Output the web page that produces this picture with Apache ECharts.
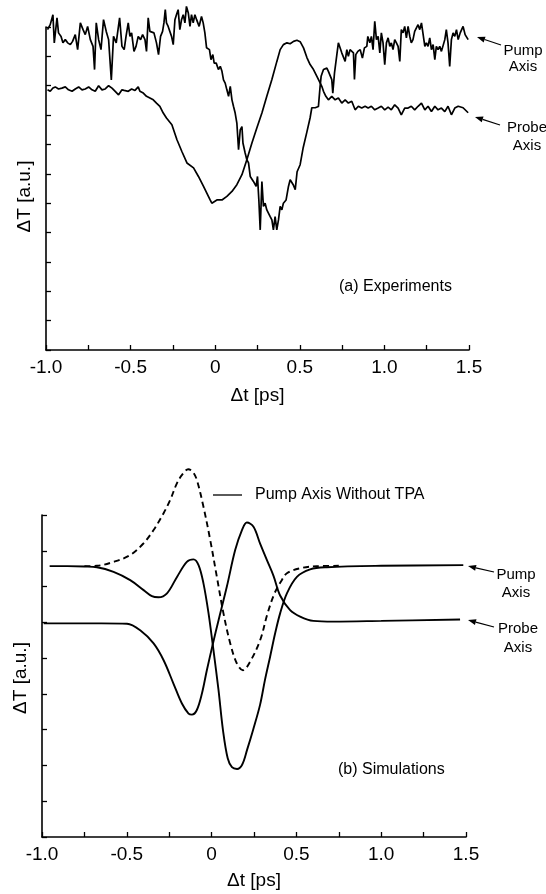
<!DOCTYPE html>
<html>
<head>
<meta charset="utf-8">
<script src="https://cdn.jsdelivr.net/npm/echarts@6/dist/echarts.min.js"></script>
<style>
  html, body { margin: 0; padding: 0; background: #fff; }
  #chart { width: 546px; height: 894px; }
</style>
</head>
<body>
<div id="chart"></div>
<script>
// tick labels shown on both time axes (every 0.5 ps, minor ticks every 0.25)
const xTickLabels = ['-1.0', '-0.5', '0', '0.5', '1.0', '1.5'];

// (a) experiments, [delay ps, dT a.u.]
const expPump = [
  [-0.991,10.91],[-0.975,11.08],[-0.959,11.42],[-0.951,10.46],[-0.935,11.31],[-0.926,10.80],[-0.911,10.68],[-0.900,10.46],
  [-0.886,10.57],[-0.872,10.46],[-0.856,10.40],[-0.843,10.51],[-0.827,10.74],[-0.813,10.23],[-0.797,11.14],[-0.781,10.91],
  [-0.768,10.74],[-0.754,11.02],[-0.738,10.57],[-0.722,10.34],[-0.713,9.55],[-0.703,11.14],[-0.689,10.57],[-0.675,10.23],
  [-0.660,11.25],[-0.644,10.85],[-0.630,10.57],[-0.614,9.20],[-0.601,10.68],[-0.585,10.46],[-0.565,11.31],[-0.551,10.34],
  [-0.538,10.23],[-0.527,10.68],[-0.514,11.14],[-0.504,10.68],[-0.494,10.80],[-0.480,10.17],[-0.468,10.34],[-0.455,10.68],
  [-0.441,10.57],[-0.429,10.74],[-0.415,10.57],[-0.406,10.17],[-0.396,11.31],[-0.386,10.85],[-0.376,10.91],[-0.362,10.80],
  [-0.347,10.46],[-0.335,10.06],[-0.323,10.68],[-0.311,10.85],[-0.303,11.14],[-0.295,11.59],[-0.288,11.14],[-0.278,11.02],
  [-0.268,11.08],[-0.258,10.68],[-0.248,10.40],[-0.238,11.25],[-0.229,11.42],[-0.219,11.59],[-0.209,10.91],[-0.199,11.25],
  [-0.189,11.42],[-0.179,11.14],[-0.170,11.70],[-0.159,11.48],[-0.149,11.02],[-0.140,11.42],[-0.130,11.14],[-0.120,11.42],
  [-0.110,11.25],[-0.095,11.02],[-0.081,11.36],[-0.071,11.14],[-0.061,10.80],[-0.051,10.29],[-0.034,10.23],[-0.025,9.89],
  [-0.014,10.06],[-0.006,9.77],[0.006,9.77],[0.019,9.55],[0.030,9.66],[0.040,9.49],[0.049,9.20],[0.059,9.09],
  [0.069,8.86],[0.079,8.64],[0.089,8.98],[0.099,8.52],[0.108,8.30],[0.118,8.07],[0.128,7.73],[0.138,6.82],
  [0.148,7.50],[0.158,7.61],[0.164,7.05],[0.177,6.71],[0.187,6.48],[0.197,6.37],[0.207,5.91],[0.226,5.74],
  [0.242,5.57],[0.250,5.91],[0.258,5.11],[0.266,4.09],[0.276,5.74],[0.285,4.89],[0.295,5.00],[0.305,4.77],
  [0.325,4.54],[0.335,4.43],[0.344,4.09],[0.354,4.54],[0.364,4.09],[0.374,4.43],[0.384,4.89],[0.394,4.77],
  [0.403,5.00],[0.419,5.11],[0.433,5.57],[0.443,5.80],[0.461,5.63],[0.473,5.46],[0.484,6.07],[0.502,6.31],
  [0.520,6.89],[0.542,7.43],[0.561,7.91],[0.571,8.25],[0.591,8.25],[0.610,8.29],[0.620,8.98],[0.626,9.32],
  [0.640,9.55],[0.660,9.60],[0.669,9.49],[0.679,9.55],[0.689,9.21],[0.695,8.75],[0.705,9.43],[0.719,10.06],
  [0.728,10.46],[0.738,10.29],[0.748,10.12],[0.758,10.06],[0.768,9.83],[0.778,10.23],[0.787,10.00],[0.797,10.23],
  [0.807,10.23],[0.817,10.12],[0.823,9.21],[0.831,10.06],[0.843,10.17],[0.857,10.23],[0.870,9.94],[0.882,10.29],
  [0.896,10.34],[0.902,10.68],[0.914,10.46],[0.923,10.68],[0.933,10.23],[0.943,11.19],[0.953,10.57],[0.963,10.68],
  [0.973,10.12],[0.982,10.80],[0.992,10.46],[1.002,9.72],[1.012,10.46],[1.022,10.63],[1.032,10.34],[1.041,10.46],
  [1.051,10.23],[1.061,10.57],[1.071,10.46],[1.081,10.34],[1.091,9.83],[1.100,10.91],[1.110,10.80],[1.120,11.02],
  [1.130,10.63],[1.140,11.02],[1.150,10.68],[1.159,10.46],[1.169,10.57],[1.179,10.85],[1.189,10.80],[1.199,11.08],
  [1.209,10.91],[1.219,11.14],[1.229,10.74],[1.239,10.34],[1.248,10.46],[1.258,10.34],[1.268,10.63],[1.278,10.23],
  [1.288,10.40],[1.298,9.89],[1.307,10.34],[1.317,10.23],[1.327,10.34],[1.337,10.17],[1.347,10.23],[1.357,10.57],
  [1.366,10.91],[1.376,10.46],[1.386,9.66],[1.396,10.57],[1.406,10.80],[1.416,10.68],[1.426,10.91],[1.436,10.57],
  [1.448,10.80],[1.465,11.02],[1.477,10.74],[1.495,10.57]
];

const expProbe = [
  [-0.991,8.86],[-0.975,8.81],[-0.959,8.92],[-0.945,8.96],[-0.926,8.89],[-0.906,8.92],[-0.886,8.96],[-0.867,8.86],
  [-0.846,8.81],[-0.827,8.89],[-0.807,8.96],[-0.787,8.86],[-0.768,8.89],[-0.748,8.96],[-0.728,8.86],[-0.709,8.81],
  [-0.689,9.00],[-0.669,8.86],[-0.650,8.89],[-0.630,9.00],[-0.610,8.92],[-0.591,8.81],[-0.571,8.69],[-0.551,8.86],
  [-0.538,8.84],[-0.514,8.81],[-0.494,8.89],[-0.474,8.84],[-0.455,8.96],[-0.445,8.81],[-0.425,8.75],[-0.406,8.64],
  [-0.386,8.58],[-0.366,8.52],[-0.347,8.41],[-0.327,8.30],[-0.307,8.07],[-0.288,7.90],[-0.256,7.67],[-0.226,7.16],
  [-0.197,6.76],[-0.167,6.37],[-0.128,6.20],[-0.099,5.91],[-0.069,5.57],[-0.030,5.11],[-0.020,5.00],[0.010,5.11],
  [0.040,5.11],[0.069,5.23],[0.099,5.40],[0.128,5.63],[0.158,5.97],[0.187,6.48],[0.217,7.05],[0.246,7.56],
  [0.276,8.07],[0.305,8.64],[0.335,9.21],[0.364,9.82],[0.384,10.23],[0.403,10.40],[0.424,10.46],[0.443,10.43],
  [0.463,10.51],[0.483,10.55],[0.502,10.50],[0.522,10.29],[0.542,9.96],[0.561,9.72],[0.581,9.55],[0.601,9.32],
  [0.620,9.10],[0.630,8.98],[0.640,8.81],[0.654,8.64],[0.669,8.52],[0.689,8.64],[0.709,8.52],[0.728,8.58],
  [0.748,8.41],[0.768,8.52],[0.787,8.41],[0.807,8.47],[0.827,8.18],[0.846,8.30],[0.866,8.24],[0.886,8.30],
  [0.904,8.24],[0.923,8.30],[0.943,8.18],[0.963,8.24],[0.982,8.30],[1.002,8.18],[1.022,8.27],[1.041,8.18],
  [1.061,8.35],[1.081,8.24],[1.100,8.01],[1.120,8.24],[1.140,8.24],[1.159,8.30],[1.179,8.18],[1.199,8.30],
  [1.219,8.41],[1.239,8.18],[1.258,8.30],[1.278,8.12],[1.298,8.30],[1.317,8.18],[1.337,8.24],[1.357,8.12],
  [1.376,8.30],[1.396,8.01],[1.416,8.24],[1.436,8.30],[1.465,8.25],[1.495,8.08]
];

// (b) simulations, [delay ps, dT a.u.]
const simPump = [
  [-0.955,7.57],[-0.85,7.57],[-0.75,7.56],[-0.676,7.54],[-0.578,7.41],[-0.48,7.18],[-0.401,6.90],[-0.352,6.73],
  [-0.313,6.70],[-0.263,6.81],[-0.204,7.27],[-0.146,7.69],[-0.107,7.76],[-0.077,7.60],[-0.048,7.09],[-0.018,6.25],
  [0.011,5.22],[0.041,4.10],[0.067,2.99],[0.095,2.20],[0.12,1.95],[0.15,1.90],[0.18,2.02],[0.21,2.45],
  [0.245,3.00],[0.286,3.70],[0.315,4.40],[0.345,5.04],[0.375,5.70],[0.404,6.25],[0.444,6.81],[0.503,7.27],
  [0.581,7.48],[0.679,7.54],[1.0,7.58],[1.484,7.60]
];

const simProbe = [
  [-0.99,5.97],[-0.8,5.97],[-0.65,5.97],[-0.499,5.96],[-0.421,5.78],[-0.342,5.41],[-0.283,4.94],[-0.225,4.29],
  [-0.175,3.73],[-0.136,3.45],[-0.116,3.42],[-0.087,3.55],[-0.057,4.01],[-0.028,4.66],[0.008,5.41],[0.041,6.06],
  [0.090,7.00],[0.139,8.02],[0.179,8.58],[0.208,8.79],[0.247,8.67],[0.286,8.20],[0.325,7.75],[0.365,7.30],
  [0.404,6.75],[0.463,6.34],[0.522,6.16],[0.600,6.04],[0.718,6.02],[1.0,6.04],[1.465,6.08]
];

const simPumpNoTPA = [
  [-0.75,7.57],[-0.676,7.58],[-0.578,7.69],[-0.48,7.88],[-0.401,8.21],[-0.342,8.58],[-0.283,9.05],[-0.244,9.42],
  [-0.204,9.89],[-0.17,10.15],[-0.138,10.28],[-0.11,10.20],[-0.087,9.98],[-0.048,9.23],[-0.008,8.30],[0.031,7.27],
  [0.070,6.25],[0.110,5.41],[0.149,4.85],[0.185,4.66],[0.227,4.90],[0.286,5.50],[0.33,6.25],[0.37,6.80],
  [0.41,7.15],[0.444,7.37],[0.522,7.51],[0.62,7.57],[0.75,7.58]
];

const FONT = '"Liberation Sans", Arial, Helvetica, sans-serif';
const INK = '#000';

function xLabel(v) {
  const k = (v + 1) / 0.5;
  if (Math.abs(k - Math.round(k)) > 1e-6) return '';
  return xTickLabels[Math.round(k)] || '';
}

function timeAxis(gridIndex, gap) {
  return {
    type: 'value', gridIndex, min: -1, max: 1.5, interval: 0.25,
    name: 'Δt [ps]', nameLocation: 'middle', nameGap: gap,
    nameTextStyle: { fontFamily: FONT, fontSize: 19, color: INK },
    axisLine: { show: true, onZero: false, lineStyle: { color: INK, width: 1.6 } },
    axisTick: { show: true, inside: true, length: 5, lineStyle: { color: INK, width: 1.3 } },
    axisLabel: { show: true, margin: 8, formatter: xLabel, fontFamily: FONT, fontSize: 19, color: INK },
    splitLine: { show: false }
  };
}

function signalAxis(gridIndex, max, shift) {
  return {
    type: 'value', gridIndex, min: 0, max, interval: 1,
    name: 'ΔT [a.u.]', nameLocation: 'middle', nameGap: 12, nameRotate: 90,
    nameTextStyle: { fontFamily: FONT, fontSize: 19, color: INK, padding: [0, shift, 0, 0] },
    axisLine: { show: true, onZero: false, lineStyle: { color: INK, width: 1.6 } },
    axisTick: { show: true, inside: true, length: 5, lineStyle: { color: INK, width: 1.3 } },
    axisLabel: { show: false },
    splitLine: { show: false }
  };
}

function trace(data, idx, opts) {
  return Object.assign({
    type: 'line', data, xAxisIndex: idx, yAxisIndex: idx,
    showSymbol: false, clip: false, silent: true,
    lineStyle: { color: INK, width: 1.9 }
  }, opts || {});
}

function text(str, x, y, size, align) {
  return {
    type: 'text', x, y, silent: true,
    style: { text: str, font: size + 'px ' + FONT, fill: INK, align: align || 'left', verticalAlign: 'middle' }
  };
}

// annotation arrow: tail (x1,y1) -> head (x2,y2)
function arrow(x1, y1, x2, y2) {
  const a = Math.atan2(y2 - y1, x2 - x1);
  const L = 8, W = 3;
  const bx = x2 - L * Math.cos(a), by = y2 - L * Math.sin(a);
  const px = -Math.sin(a) * W, py = Math.cos(a) * W;
  return [
    { type: 'line', silent: true, shape: { x1, y1, x2: bx, y2: by }, style: { stroke: INK, lineWidth: 1.2 } },
    { type: 'polygon', silent: true, shape: { points: [[x2, y2], [bx + px, by + py], [bx - px, by - py]] }, style: { fill: INK } }
  ];
}

const chart = echarts.init(document.getElementById('chart'), null, { renderer: 'canvas' });

chart.setOption({
  animation: false,
  backgroundColor: '#fff',
  grid: [
    { left: 46, right: 77, top: 27, bottom: 544 },
    { left: 42, right: 80, top: 515, bottom: 57 }
  ],
  xAxis: [timeAxis(0, 36), timeAxis(1, 34)],
  yAxis: [signalAxis(0, 11, 16), signalAxis(1, 9, 4)],
  series: [
    trace(expPump, 0, { lineStyle: { color: INK, width: 1.7 } }),
    trace(expProbe, 0, { lineStyle: { color: INK, width: 1.7 } }),
    trace(simPump, 1, { smooth: 0.35 }),
    trace(simProbe, 1, { smooth: 0.35 }),
    trace(simPumpNoTPA, 1, { smooth: 0.35, lineStyle: { color: INK, width: 1.9, type: [6, 4] } })
  ],
  graphic: [
    text('Pump', 523, 51, 15, 'center'),
    text('Axis', 523, 67, 15, 'center'),
    ...arrow(501, 45, 477, 37),
    text('Probe', 527, 128, 15, 'center'),
    text('Axis', 527, 146, 15, 'center'),
    ...arrow(500, 125, 475, 117),
    text('(a) Experiments', 339, 287, 16),

    text('Pump Axis Without TPA', 255, 495, 16),
    { type: 'line', silent: true, shape: { x1: 213, y1: 495, x2: 242, y2: 495 }, style: { stroke: INK, lineWidth: 1.3 } },
    text('Pump', 516, 575, 15, 'center'),
    text('Axis', 516, 593, 15, 'center'),
    ...arrow(494, 572, 468, 566),
    text('Probe', 518, 629, 15, 'center'),
    text('Axis', 518, 648, 15, 'center'),
    ...arrow(494, 627, 468, 620),
    text('(b) Simulations', 338, 770, 16)
  ]
});
</script>
</body>
</html>
